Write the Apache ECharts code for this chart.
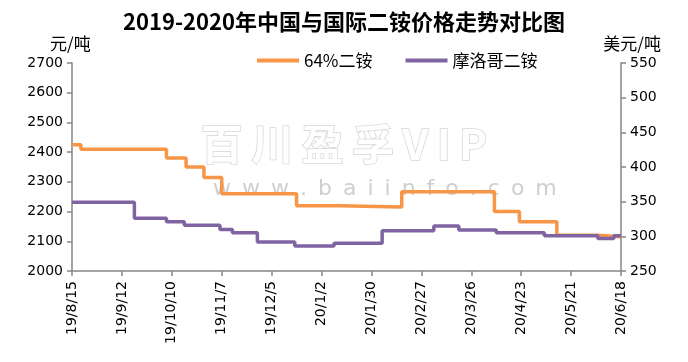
<!DOCTYPE html>
<html>
<head>
<meta charset="utf-8">
<script src="https://cdn.jsdelivr.net/npm/echarts@6/dist/echarts.min.js"></script>
<style>html,body{margin:0;padding:0;background:#fff;}#c{width:688px;height:362px;}</style>
</head>
<body>
<div id="c"></div>
<script>
// ---- data ----
var titleText = '2019-2020年中国与国际二铵价格走势对比图';
var seriesNames = ['64%二铵', '摩洛哥二铵'];
var startDate = '2019-08-15';
var endDate = '2020-06-18';
// 64%二铵 (元/吨) - dates where price changes and new price
var cnDates = ['2019-08-15','2019-08-20','2019-10-07','2019-10-18','2019-10-28','2019-11-07','2019-12-19','2020-01-12','2020-02-16','2020-04-08','2020-04-22','2020-05-13','2020-06-05','2020-06-18'];
var cnValues = [2425,2410,2380,2350,2315,2260,2220,2215,2267,2200,2166,2120,2115,2115];
// 摩洛哥二铵 (美元/吨)
var maDates = ['2019-08-15','2019-09-19','2019-10-07','2019-10-17','2019-11-06','2019-11-13','2019-11-27','2019-12-18','2020-01-09','2020-02-05','2020-03-05','2020-03-19','2020-04-09','2020-05-06','2020-06-05','2020-06-14','2020-06-18'];
var maValues = [349,326,321,316,310,305,292,286,290,308,315,309,305,301,297,301,301];
var leftTicks = {min: 2000, max: 2700, interval: 100};
var rightTicks = {min: 250, max: 550, interval: 50};
var tickDays = 28;

function dayOf(s) {
  var p = s.split('-');
  return Math.round((Date.UTC(+p[0], +p[1]-1, +p[2]) - Date.UTC(2019, 7, 15)) / 86400000);
}
function pairs(ds, vs) { return ds.map(function (d, i) { return [dayOf(d), vs[i]]; }); }
function fmt(v) {
  var t = new Date(Date.UTC(2019, 7, 15) + v * 86400000);
  return String(t.getUTCFullYear()).slice(2) + '/' + (t.getUTCMonth()+1) + '/' + t.getUTCDate();
}
function plain(v) { return String(v); }

var chart = echarts.init(document.getElementById('c'), null, {renderer: 'canvas'});
var axisColor = '#868686';
var numFont = 'DejaVu Sans';
var cjk = '"Noto Sans CJK SC"';
chart.setOption({
  animation: false,
  backgroundColor: '#fff',
  title: {
    text: titleText, left: 'center', top: 6,
    textStyle: {fontFamily: cjk, fontWeight: 'bold', fontSize: 22, color: '#000'}
  },
  legend: {
    data: seriesNames, left: 252, top: 47, icon: 'rect', itemWidth: 42, itemHeight: 4, itemGap: 33,
    textStyle: {fontFamily: cjk, fontSize: 17, color: '#000'}
  },
  graphic: [
    {type: 'text', left: 50, top: 35, z: 10, style: {text: '元/吨', font: '17px "Noto Sans CJK SC"', fill: '#000'}},
    {type: 'text', right: 27, top: 35, z: 10, style: {text: '美元/吨', font: '17px "Noto Sans CJK SC"', fill: '#000'}},
    {type: 'text', left: 200, top: 122, z: -1, silent: true, style: {text: '百\u2009川\u2009盈\u2009孚\u2009V\u2009I\u2009P', font: 'bold 42px "Noto Sans CJK SC"', fill: '#ffffff', stroke: '#d6d6d6', lineWidth: 1.5}},
    {type: 'text', left: 213, top: 178, z: -1, silent: true, style: {text: 'w\u2002w\u2002w\u2002.\u2002b\u2002a\u2002i\u2002i\u2002n\u2002f\u2002o\u2002.\u2002c\u2002o\u2002m', font: '22px "DejaVu Sans"', fill: '#cfcfcf'}}
  ],
  grid: {left: 72, right: 67, top: 63, bottom: 91},
  xAxis: {
    type: 'value', min: 0, max: dayOf(endDate), interval: tickDays,
    axisLine: {lineStyle: {color: axisColor, width: 1.5}},
    axisTick: {show: true, length: 5, lineStyle: {color: axisColor, width: 1.5}},
    splitLine: {show: false},
    axisLabel: {rotate: 90, margin: 10, formatter: fmt, color: '#000', fontFamily: numFont, fontSize: 14}
  },
  yAxis: [
    {
      type: 'value', min: leftTicks.min, max: leftTicks.max, interval: leftTicks.interval,
      axisLine: {show: true, lineStyle: {color: axisColor, width: 1.5}},
      axisTick: {show: true, length: 5, lineStyle: {color: axisColor, width: 1.5}},
      splitLine: {show: false},
      axisLabel: {color: '#000', fontFamily: numFont, fontSize: 14, margin: 9, formatter: plain}
    },
    {
      type: 'value', position: 'right', min: rightTicks.min, max: rightTicks.max, interval: rightTicks.interval,
      axisLine: {show: true, lineStyle: {color: axisColor, width: 1.5}},
      axisTick: {show: true, length: 5, lineStyle: {color: axisColor, width: 1.5}},
      splitLine: {show: false},
      axisLabel: {color: '#000', fontFamily: numFont, fontSize: 14, margin: 9, formatter: plain}
    }
  ],
  series: [
    {
      name: seriesNames[0], type: 'line', yAxisIndex: 0, step: 'end', showSymbol: false,
      data: pairs(cnDates, cnValues), color: '#F79646',
      lineStyle: {width: 3.5, color: '#F79646'}, z: 3
    },
    {
      name: seriesNames[1], type: 'line', yAxisIndex: 1, step: 'end', showSymbol: false,
      data: pairs(maDates, maValues), color: '#8064A2',
      lineStyle: {width: 3.5, color: '#8064A2'}, z: 4
    }
  ]
});
</script>
</body>
</html>
